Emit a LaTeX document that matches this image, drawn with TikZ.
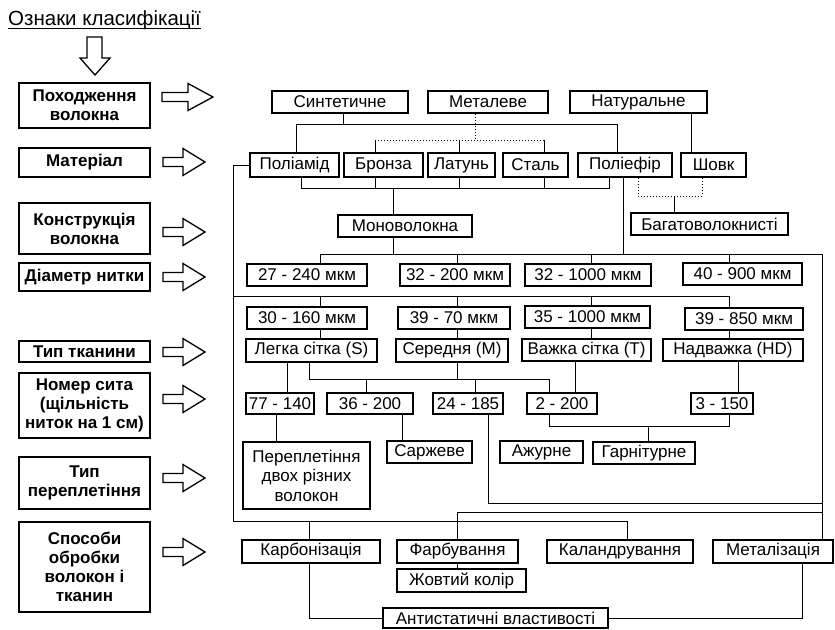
\documentclass[tikz,border=0pt]{standalone}
\usepackage{fontspec}
\setmainfont{Liberation Sans}
\usetikzlibrary{calc}
\tikzset{
  bx/.style={draw, line width=1.6pt, inner sep=0pt, align=center, font=\fontsize{17}{19.5}\selectfont},
  lb/.style={draw, line width=1.6pt, inner sep=0pt, align=center, font=\fontsize{17}{19}\selectfont\bfseries},
  ln/.style={line width=1pt},
  dt/.style={line width=1pt, dotted},
  barr/.style={draw, line width=1.3pt, fill=white, line join=miter}
}
\newcommand\mybox[7][bx]{\node[#1, minimum width={#5pt-#3pt}, minimum height={#6pt-#4pt}] (#2) at ({(#3+#5)/2},{(#4+#6)/2}) {#7};}
\newcommand\rarrow[5]{\draw[barr] (#1,#5-4.5) -- (#2,#5-4.5) -- (#2,#5-13.5) -- (#3,#5) -- (#2,#5+13.5) -- (#2,#5+4.5) -- (#1,#5+4.5) -- cycle;}
\begin{document}
\begin{tikzpicture}[x=1pt,y=-1pt]
\useasboundingbox (0,0) rectangle (835,629);
\fill[white] (0,0) rectangle (835,629);
% title
\node[anchor=base west, inner sep=0pt, font=\fontsize{20.5}{24}\selectfont] (title) at (8,25) {Ознаки класифікації};
\draw[line width=1pt] ($(title.base west)+(0,3)$) -- ($(title.base east)+(0,3)$);
% down arrow
\draw[barr] (87,37) -- (102,37) -- (102,58) -- (110,58) -- (95,75) -- (80,58) -- (87,58) -- cycle;
% left labels
\mybox[lb]{l1}{19}{83}{150}{128}{Походження\\волокна}
\mybox[lb]{l2}{19}{148}{150}{177}{Матеріал}
\mybox[lb]{l3}{19}{203}{150}{254}{Конструкція\\волокна}
\mybox[lb]{l4}{19}{263}{150}{291}{Діаметр нитки}
\mybox[lb]{l5}{19}{341}{150}{362}{Тип тканини}
\mybox[lb]{l6}{19}{373}{150}{438}{Номер сита\\(щільність\\ниток на 1 см)}
\mybox[lb]{l7}{19}{457}{150}{509}{Тип\\переплетіння}
\mybox[lb]{l8}{19}{522}{150}{612}{Способи\\обробки\\волокон і\\тканин}
% arrows
\rarrow{162}{188}{213}{}{97}
\rarrow{163}{183}{205}{}{162}
\rarrow{163}{183}{205}{}{232}
\rarrow{163}{183}{205}{}{277}
\rarrow{163}{183}{205}{}{352}
\rarrow{163}{183}{205}{}{399}
\rarrow{163}{183}{205}{}{478}
\rarrow{163}{183}{205}{}{552}
% boxes
\mybox{syn}{272}{91}{408}{113}{Синтетичне}
\mybox{met}{428}{91}{548}{113}{Металеве}
\mybox{nat}{570}{91}{707}{113}{Натуральне}
\mybox{pam}{250}{153}{339}{177}{Поліамід}
\mybox{bro}{344}{153}{423}{177}{Бронза}
\mybox{lat}{428}{153}{495}{177}{Латунь}
\mybox{sta}{503}{153}{568}{177}{Сталь}
\mybox{pef}{578}{153}{672}{177}{Поліефір}
\mybox{sho}{681}{153}{746}{177}{Шовк}
\mybox{mono}{338}{215}{472}{237}{Моноволокна}
\mybox{bag}{631}{213}{788}{235}{Багатоволокнисті}
\mybox{d1}{247}{264}{367}{286}{27 - 240 мкм}
\mybox{d2}{400}{264}{510}{286}{32 - 200 мкм}
\mybox{d3}{525}{264}{651}{286}{32 - 1000 мкм}
\mybox{d4}{683}{263}{802}{285}{40 - 900 мкм}
\mybox{e1}{247}{307}{367}{329}{30 - 160 мкм}
\mybox{e2}{398}{307}{510}{329}{39 - 70 мкм}
\mybox{e3}{525}{306}{650}{328}{35 - 1000 мкм}
\mybox{e4}{685}{308}{803}{330}{39 - 850 мкм}
\mybox{t1}{246}{339}{377}{362}{Легка сітка (S)}
\mybox{t2}{396}{339}{508}{362}{Середня (M)}
\mybox{t3}{522}{339}{651}{361}{Важка сітка (T)}
\mybox{t4}{663}{339}{803}{361}{Надважка (HD)}
\mybox{n1}{246}{393}{314}{414}{77 - 140}
\mybox{n2}{327}{393}{413}{414}{36 - 200}
\mybox{n3}{433}{393}{503}{414}{24 - 185}
\mybox{n4}{527}{393}{597}{414}{2 - 200}
\mybox{n5}{691}{393}{753}{414}{3 - 150}
\mybox{w1}{243}{442}{370}{509}{Переплетіння\\двох різних\\волокон}
\mybox{w2}{387}{441}{472}{463}{Саржеве}
\mybox{w3}{500}{441}{583}{463}{Ажурне}
\mybox{w4}{593}{442}{695}{464}{Гарнітурне}
\mybox{p1}{242}{540}{380}{563}{Карбонізація}
\mybox{p2}{397}{540}{518}{563}{Фарбування}
\mybox{p3}{547}{540}{693}{563}{Каландрування}
\mybox{p4}{713}{540}{833}{563}{Металізація}
\mybox{p5}{397}{569}{526}{592}{Жовтий колір}
\mybox{anti}{383}{608}{608}{628}{Антистатичні властивості}
% connectors: top
\draw[ln] (343,0 |- syn.south) -- (343,124);
\draw[ln] (296,0 |- pam.north) -- (296,124) -- (617,124) -- (617,0 |- pef.north);
\draw[dt] (475,0 |- met.south) -- (475,140);
\draw[dt] (375,140) -- (544,140);
\draw[ln] (375,140) -- (375,0 |- bro.north);
\draw[ln] (459,140) -- (459,0 |- lat.north);
\draw[ln] (544,140) -- (544,0 |- sta.north);
\draw[ln] (691,0 |- nat.south) -- (691,0 |- sho.north);
% bus 188
\draw[ln] (301,0 |- pam.south) -- (301,188) -- (609,188) -- (609,0 |- pef.south);
\draw[ln] (375,0 |- bro.south) -- (375,188);
\draw[ln] (459,0 |- lat.south) -- (459,188);
\draw[ln] (544,0 |- sta.south) -- (544,188);
\draw[ln] (393,188) -- (393,0 |- mono.north);
% dotted polyester-silk
\draw[dt] (638,0 |- pef.south) -- (638,196) -- (702,196) -- (702,0 |- sho.south);
\draw[ln] (674,196) -- (674,0 |- bag.north);
% left long line
\draw[ln] (pam.west) -- (233,0 |- pam.west) -- (233,521) -- (627,521) -- (627,0 |- p3.north);
\draw[ln] (309,521) -- (309,0 |- p1.north);
% bus 254
\draw[ln] (393,0 |- mono.south) -- (393,254);
\draw[ln] (623,0 |- pef.south) -- (623,254);
\draw[ln] (320,0 |- d1.north) -- (320,254) -- (822,254) -- (822,0 |- p4.north);
\draw[ln] (457,254) -- (457,0 |- d2.north);
\draw[ln] (591,254) -- (591,0 |- d3.north);
\draw[ln] (729,254) -- (729,0 |- d4.north);
% bus 296
\draw[ln] (233,296) -- (729,296) -- (729,0 |- e4.north);
\draw[ln] (320,296) -- (320,0 |- e1.north);
\draw[ln] (457,296) -- (457,0 |- e2.north);
\draw[ln] (591,296) -- (591,0 |- e3.north);
\draw[ln] (320,0 |- e1.south) -- (320,0 |- t1.north);
\draw[ln] (457,0 |- e2.south) -- (457,0 |- t2.north);
\draw[ln] (591,0 |- e3.south) -- (591,0 |- t3.north);
\draw[ln] (729,0 |- e4.south) -- (729,0 |- t4.north);
% mesh numbers
\draw[ln] (287,0 |- t1.south) -- (287,0 |- n1.north);
\draw[ln] (309,0 |- t1.south) -- (309,379) -- (549,379) -- (549,0 |- n4.north);
\draw[ln] (457,0 |- t2.south) -- (457,379);
\draw[ln] (366,379) -- (366,0 |- n2.north);
\draw[ln] (475,379) -- (475,0 |- n3.north);
\draw[ln] (575,0 |- t3.south) -- (575,0 |- n4.north);
\draw[ln] (738,0 |- t4.south) -- (738,0 |- n5.north);
% weaves
\draw[ln] (276,0 |- n1.south) -- (276,0 |- w1.north);
\draw[ln] (402,0 |- n2.south) -- (402,0 |- w2.north);
\draw[ln] (549,0 |- n4.south) -- (549,426) -- (729,426) -- (729,0 |- n5.south);
\draw[ln] (648,426) -- (648,0 |- w4.north);
\draw[ln] (488,0 |- n3.south) -- (488,503) -- (822,503);
% processing
\draw[ln] (457,0 |- p2.north) -- (457,512) -- (822,512);
\draw[ln] (457,0 |- p2.south) -- (457,0 |- p5.north);
\draw[ln] (309,0 |- p1.south) |- (anti.west);
\draw[ln] (802,0 |- p4.south) |- (anti.east);
\end{tikzpicture}
\end{document}
